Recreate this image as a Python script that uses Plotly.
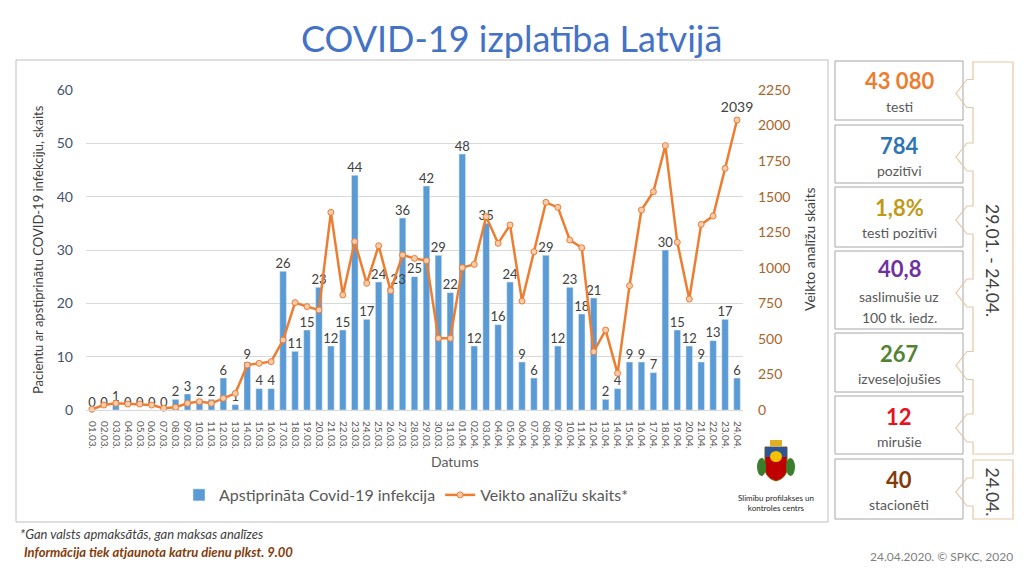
import plotly.graph_objects as go

# daily series, 01.03.2020 - 24.04.2020
dates = ['01.03.', '02.03.', '03.03.', '04.03.', '05.03.', '06.03.', '07.03.', '08.03.', '09.03.', '10.03.',
         '11.03.', '12.03.', '13.03.', '14.03.', '15.03.', '16.03.', '17.03.', '18.03.', '19.03.', '20.03.',
         '21.03.', '22.03.', '23.03.', '24.03.', '25.03.', '26.03.', '27.03.', '28.03.', '29.03.', '30.03.',
         '31.03.', '01.04.', '02.04.', '03.04.', '04.04.', '05.04.', '06.04.', '07.04.', '08.04.', '09.04.',
         '10.04.', '11.04.', '12.04.', '13.04.', '14.04.', '15.04.', '16.04.', '17.04.', '18.04.', '19.04.',
         '20.04.', '21.04.', '22.04.', '23.04.', '24.04.']
confirmed = [0, 0, 1, 0, 0, 0, 0, 2, 3, 2,
             2, 6, 1, 9, 4, 4, 26, 11, 15, 23,
             12, 15, 44, 17, 24, 23, 36, 25, 42, 29,
             22, 48, 12, 35, 16, 24, 9, 6, 29, 12,
             23, 18, 21, 2, 4, 9, 9, 7, 30, 15,
             12, 9, 13, 17, 6]
tests = [5, 35, 47, 42, 42, 35, 12, 19, 47, 59,
         47, 82, 117, 316, 328, 340, 492, 755, 727, 703,
         1390, 809, 1184, 891, 1155, 839, 1090, 1066, 1050, 504,
         504, 1001, 1024, 1359, 1172, 1301, 766, 1113, 1460, 1425,
         1195, 1141, 410, 562, 258, 874, 1406, 1535, 1859, 1179,
         780, 1305, 1364, 1699, 2039]

# summary boxes on the right
box_values = ['43 080', '784', '1,8%', '40,8', '267', '12', '40']
box_labels = ['testi', 'pozitīvi', 'testi pozitīvi', 'saslimušie uz<br>100 tk. iedz.',
              'izveseļojušies', 'mirušie', 'stacionēti']
box_colors = ['#ED7D31', '#2E75B6', '#C09A16', '#7030A0', '#548235', '#E8111E', '#843C0C']
box_tops = [61, 125, 187, 251, 333, 396, 459]
box_bottoms = [120, 183, 247, 329, 392, 454, 519]
period_labels = ['29.01. - 24.04.', '24.04.']

FONT = 'Lato'
# the page body keeps its default 8px margin, so the figure is drawn 8px smaller
# and every position below is given in window pixels
PAD = 8
W, H = 1024 - PAD * 2, 576 - PAD * 2


def px(x):
    return (x - PAD) / W


def py(y):
    return 1 - (y - PAD) / H


def label_positions(values):
    """Nudge a two-digit label right when its left neighbour sits at nearly the same height."""
    out = ['top center']
    for prev, cur in zip(values, values[1:]):
        crowded = prev >= 10 and cur >= 10 and abs(prev - cur) <= 1
        out.append('top right' if crowded else 'top center')
    return out


fig = go.Figure()
fig.add_trace(go.Bar(
    x=dates, y=confirmed, name='Apstiprināta Covid-19 infekcija', marker_color='#5B9BD5'))
fig.add_trace(go.Scatter(
    x=dates, y=tests, yaxis='y2', name='Veikto analīžu skaits*', mode='lines+markers+text',
    line=dict(color='#ED7D31', width=2.5),
    marker=dict(size=6, color='#F8CBAD', line=dict(color='#ED7D31', width=1)),
    text=[''] * (len(tests) - 1) + [str(tests[-1])], textposition='top center',
    textfont=dict(size=14, color='#404040', family=FONT), cliponaxis=False))
# bar value labels
fig.add_trace(go.Scatter(
    x=dates, y=confirmed, mode='text', text=confirmed, textposition=label_positions(confirmed),
    textfont=dict(size=13, color='#404040', family=FONT), showlegend=False, cliponaxis=False,
    hoverinfo='skip'))

shapes = [dict(type='rect', xref='paper', yref='paper', x0=px(16), x1=px(828), y0=py(60), y1=py(522),
               line=dict(color='#BFBFBF', width=1))]
annotations = [
    dict(text='COVID-19 izplatība Latvijā', x=px(511), y=py(38), font=dict(size=36, color='#4472C4')),
    dict(text='Datums', x=px(455), y=py(461), font=dict(size=14, color='#595959')),
    dict(text='Pacientu ar apstiprinātu COVID-19 infekciju, skaits', x=px(38), y=py(250), textangle=-90,
         font=dict(size=13, color='#404040')),
    dict(text='Veikto analīžu skaits', x=px(809), y=py(250), textangle=-90, font=dict(size=14, color='#404040')),
    dict(text='Slimību profilakses un<br>kontroles centrs', x=px(776), y=py(503),
         font=dict(size=8, color='#262626')),
    dict(text='<i>*Gan valsts apmaksātās, gan maksas analīzes</i>', x=px(18), y=py(534), xanchor='left',
         font=dict(size=13, color='#404040')),
    dict(text='<b><i>Informācija tiek atjaunota katru dienu plkst. 9.00</i></b>', x=px(22), y=py(552),
         xanchor='left', font=dict(size=13, color='#843C0C')),
    dict(text='24.04.2020. © SPKC, 2020', x=px(1015), y=py(556), xanchor='right',
         font=dict(size=12, color='#7F7F7F')),
]

# coat of arms, rough sketch
shapes += [
    dict(type='path', xref='paper', yref='paper', fillcolor='#C00000', line=dict(color='#7F6000', width=1),
         path='M {} {} L {} {} L {} {} Q {} {} {} {} Q {} {} {} {} Z'.format(
             px(765), py(447), px(787), py(447), px(787), py(468), px(787), py(478), px(776), py(481),
             px(765), py(478), px(765), py(468))),
    dict(type='rect', xref='paper', yref='paper', x0=px(765), x1=px(787), y0=py(457), y1=py(447),
         fillcolor='#2E5597', line=dict(width=0)),
    dict(type='circle', xref='paper', yref='paper', x0=px(770), x1=px(782), y0=py(462), y1=py(451),
         fillcolor='#F2C200', line=dict(width=0)),
    dict(type='circle', xref='paper', yref='paper', x0=px(757), x1=px(766), y0=py(476), y1=py(458),
         fillcolor='#3A7D2C', line=dict(width=0)),
    dict(type='circle', xref='paper', yref='paper', x0=px(786), x1=px(795), y0=py(476), y1=py(458),
         fillcolor='#3A7D2C', line=dict(width=0)),
    dict(type='rect', xref='paper', yref='paper', x0=px(770), x1=px(782), y0=py(446), y1=py(440),
         fillcolor='#E0B020', line=dict(width=0)),
]

for value, label, color, top, bottom in zip(box_values, box_labels, box_colors, box_tops, box_bottoms):
    shapes.append(dict(type='rect', xref='paper', yref='paper', x0=px(835), x1=px(963), y0=py(top),
                       y1=py(bottom), line=dict(color='#A6A6A6', width=1)))
    lines = label.split('<br>')
    value_y = top + (17 if len(lines) > 1 else 20)
    annotations.append(dict(text='<b>%s</b>' % value, x=px(899), y=py(value_y),
                            font=dict(size=22, color=color)))
    for k, line in enumerate(lines):
        annotations.append(dict(text=line, x=px(899), y=py(top + 45 + 21 * k),
                                font=dict(size=14, color='#595959')))

# tan brackets with arrows pointing at the boxes
for group, text in zip([range(0, 6), range(6, 7)], period_labels):
    top, bottom = box_tops[group[0]] + 1, box_bottoms[group[-1]]
    pts = [(973, top), (1013, top), (1013, bottom), (973, bottom)]
    for i in reversed(group):
        c = (box_tops[i] + box_bottoms[i]) / 2 + 3
        pts += [(973, c + 14), (967, c + 14), (956, c), (967, c - 14), (973, c - 14)]
    path = 'M ' + ' L '.join('%.5f %.5f' % (px(x), py(y)) for x, y in pts) + ' Z'
    shapes.append(dict(type='path', xref='paper', yref='paper', path=path,
                       line=dict(color='#E5C7A5', width=1.2)))
    annotations.append(dict(text=text, x=px(992), y=py((top + bottom) / 2 + 2), textangle=90,
                            font=dict(size=17.5, color='#404040')))

for a in annotations:
    a.setdefault('xref', 'paper')
    a.setdefault('yref', 'paper')
    a.setdefault('showarrow', False)
    a.setdefault('xanchor', 'center')
    a.setdefault('yanchor', 'middle')
    a['font'].setdefault('family', FONT)

fig.update_layout(
    width=W, height=H, margin=dict(l=0, r=0, t=0, b=0, autoexpand=False),
    paper_bgcolor='white', plot_bgcolor='white', font=dict(family=FONT),
    bargap=0.45, shapes=shapes, annotations=annotations,
    xaxis=dict(type='category', domain=[px(86), px(743)], range=[-0.5, len(dates) - 0.5],
               tickmode='linear', tick0=0, dtick=1,
               tickangle=90, tickfont=dict(size=10, color='#595959'), showgrid=False, ticklabelstandoff=8,
               showline=True, linecolor='#D9D9D9', ticks='', automargin=False),
    yaxis=dict(domain=[py(410), py(90)], range=[0, 60], dtick=10, gridcolor='#D9D9D9', automargin=False,
               zeroline=False, ticks='', tickfont=dict(size=14, color='#44546A'), ticklabelstandoff=12),
    yaxis2=dict(overlaying='y', side='right', range=[0, 2250], dtick=250, showgrid=False, automargin=False,
                zeroline=False, ticks='', tickfont=dict(size=14, color='#A5652B'), ticklabelstandoff=14),
    legend=dict(orientation='h', x=px(406), xanchor='center', y=py(495), yanchor='middle',
                font=dict(size=16, color='#595959'), itemwidth=30),
)

fig.write_html('out.html')
